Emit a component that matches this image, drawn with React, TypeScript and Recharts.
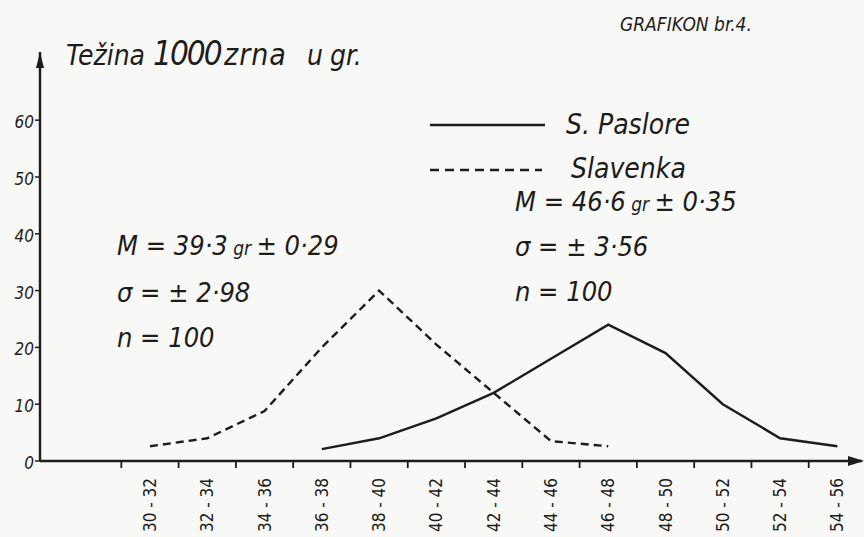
import { LineChart, Line, XAxis, YAxis, ReferenceDot } from 'recharts';

const categories = [
  '30 - 32', '32 - 34', '34 - 36', '36 - 38', '38 - 40', '40 - 42', '42 - 44',
  '44 - 46', '46 - 48', '48 - 50', '50 - 52', '52 - 54', '54 - 56'
];
// Slavenka (dashed)
const slavenka = [2.6, 4, 8.8, 20, 30, 20.5, 12, 3.5, 2.6, null, null, null, null];
// S. Paslore (solid)
const paslore = [null, null, null, 2.1, 4, 7.5, 12, 18, 24, 19, 10, 4, 2.6];
const yTicks = [0, 10, 20, 30, 40, 50, 60];

const X_MIN = -1.92;
const X_MAX = 12.43;
const Y_MAX = 72;
const W = 864;
const H = 537;
const PLOT_W = W - 40 - 2;
const BAND = PLOT_W / (X_MAX - X_MIN);

const ink = '#1c1c1c';
const hand = "'DejaVu Sans Condensed', 'DejaVu Sans', sans-serif";

const chartData = categories.map((c, i) => ({
  idx: i,
  label: c,
  slavenka: slavenka[i],
  paslore: paslore[i]
}));

const XTick = (props: any) => {
  const { x, y, payload } = props;
  const bx = x - BAND / 2;
  return (
    <g>
      <line x1={bx} y1={y} x2={bx} y2={y + 7} stroke={ink} strokeWidth={1.8} />
      <text
        x={0}
        y={0}
        transform={`translate(${x + 6},${y + 44}) rotate(-90)`}
        textAnchor="middle"
        fontFamily={hand}
        fontSize={17}
        fill={ink}
      >
        {categories[payload.value]}
      </text>
    </g>
  );
};

const YTick = (props: any) => {
  const { x, y, payload } = props;
  return (
    <g>
      <line x1={x - 5} y1={y} x2={x} y2={y} stroke={ink} strokeWidth={1.5} />
      <text x={x - 6} y={y + 8} textAnchor="end" fontFamily={hand} fontStyle="italic" fontSize={17} fill={ink}>
        {payload.value}
      </text>
    </g>
  );
};

const ArrowRight = (props: any) => (
  <path d={`M${props.cx + 2},${props.cy} L${props.cx - 14},${props.cy - 5} L${props.cx - 14},${props.cy + 5} Z`} fill={ink} />
);
const ArrowUp = (props: any) => (
  <path d={`M${props.cx},${props.cy} L${props.cx - 4},${props.cy + 16} L${props.cx + 4},${props.cy + 16} Z`} fill={ink} />
);

const App = () => {
  const txt = { fontFamily: hand, fontStyle: 'italic' as const, fill: ink };
  return (
    <div style={{ position: 'absolute', left: 0, top: 0, width: W, height: H, background: '#f8f8f6' }}>
      <LineChart width={W} height={H} data={chartData} margin={{ top: 52, right: 2, bottom: 0, left: 0 }}>
        <XAxis
          dataKey="idx"
          type="number"
          domain={[X_MIN, X_MAX]}
          ticks={categories.map((_, i) => i)}
          tick={<XTick />}
          tickLine={false}
          tickSize={0}
          tickMargin={0}
          height={76}
          axisLine={{ stroke: ink, strokeWidth: 2.4 }}
          allowDataOverflow
        />
        <YAxis
          type="number"
          domain={[0, Y_MAX]}
          ticks={yTicks}
          tick={<YTick />}
          tickLine={false}
          tickSize={0}
          tickMargin={0}
          width={40}
          axisLine={{ stroke: ink, strokeWidth: 2.4 }}
          allowDataOverflow
        />
        <Line
          dataKey="slavenka"
          stroke={ink}
          strokeWidth={2.4}
          strokeDasharray="8 5"
          dot={false}
          type="linear"
          isAnimationActive={false}
        />
        <Line
          dataKey="paslore"
          stroke={ink}
          strokeWidth={2.4}
          dot={false}
          type="linear"
          isAnimationActive={false}
        />
        <ReferenceDot x={X_MAX} y={0} r={0} ifOverflow="visible" shape={<ArrowRight />} />
        <ReferenceDot x={X_MIN} y={Y_MAX} r={0} ifOverflow="visible" shape={<ArrowUp />} />
      </LineChart>
      <svg width={W} height={H} style={{ position: 'absolute', left: 0, top: 0, pointerEvents: 'none' }}>
        <text x={66} y={65} fontSize={28} {...txt}>
          Težina
          <tspan x={153} fontSize={33} letterSpacing={-2}>1000</tspan>
          <tspan x={224} fontSize={30} letterSpacing={1}>zrna</tspan>
          <tspan x={307}>u</tspan>
          <tspan x={330}>gr.</tspan>
        </text>
        <text x={620} y={31} fontSize={19} {...txt}>GRAFIKON br.4.</text>

        <line x1={430} y1={125} x2={545} y2={125} stroke={ink} strokeWidth={2.4} />
        <text x={566} y={134} fontSize={28} {...txt}>S. Paslore</text>
        <line x1={430} y1={170} x2={542} y2={170} stroke={ink} strokeWidth={2.4} strokeDasharray="9 6" />
        <text x={571} y={178} fontSize={28} {...txt}>Slavenka</text>

        <text x={515} y={211} fontSize={27} {...txt}>
          M = 46·6<tspan fontSize={19}> gr </tspan>± 0·35
        </text>
        <text x={515} y={256} fontSize={27} {...txt}>σ  = ± 3·56</text>
        <text x={515} y={301} fontSize={27} {...txt}>n  = 100</text>

        <text x={117} y={255} fontSize={27} {...txt}>
          M = 39·3<tspan fontSize={19}> gr </tspan>± 0·29
        </text>
        <text x={117} y={302} fontSize={27} {...txt}>σ  = ± 2·98</text>
        <text x={117} y={347} fontSize={27} {...txt}>n  = 100</text>
      </svg>
    </div>
  );
};

export default App;
